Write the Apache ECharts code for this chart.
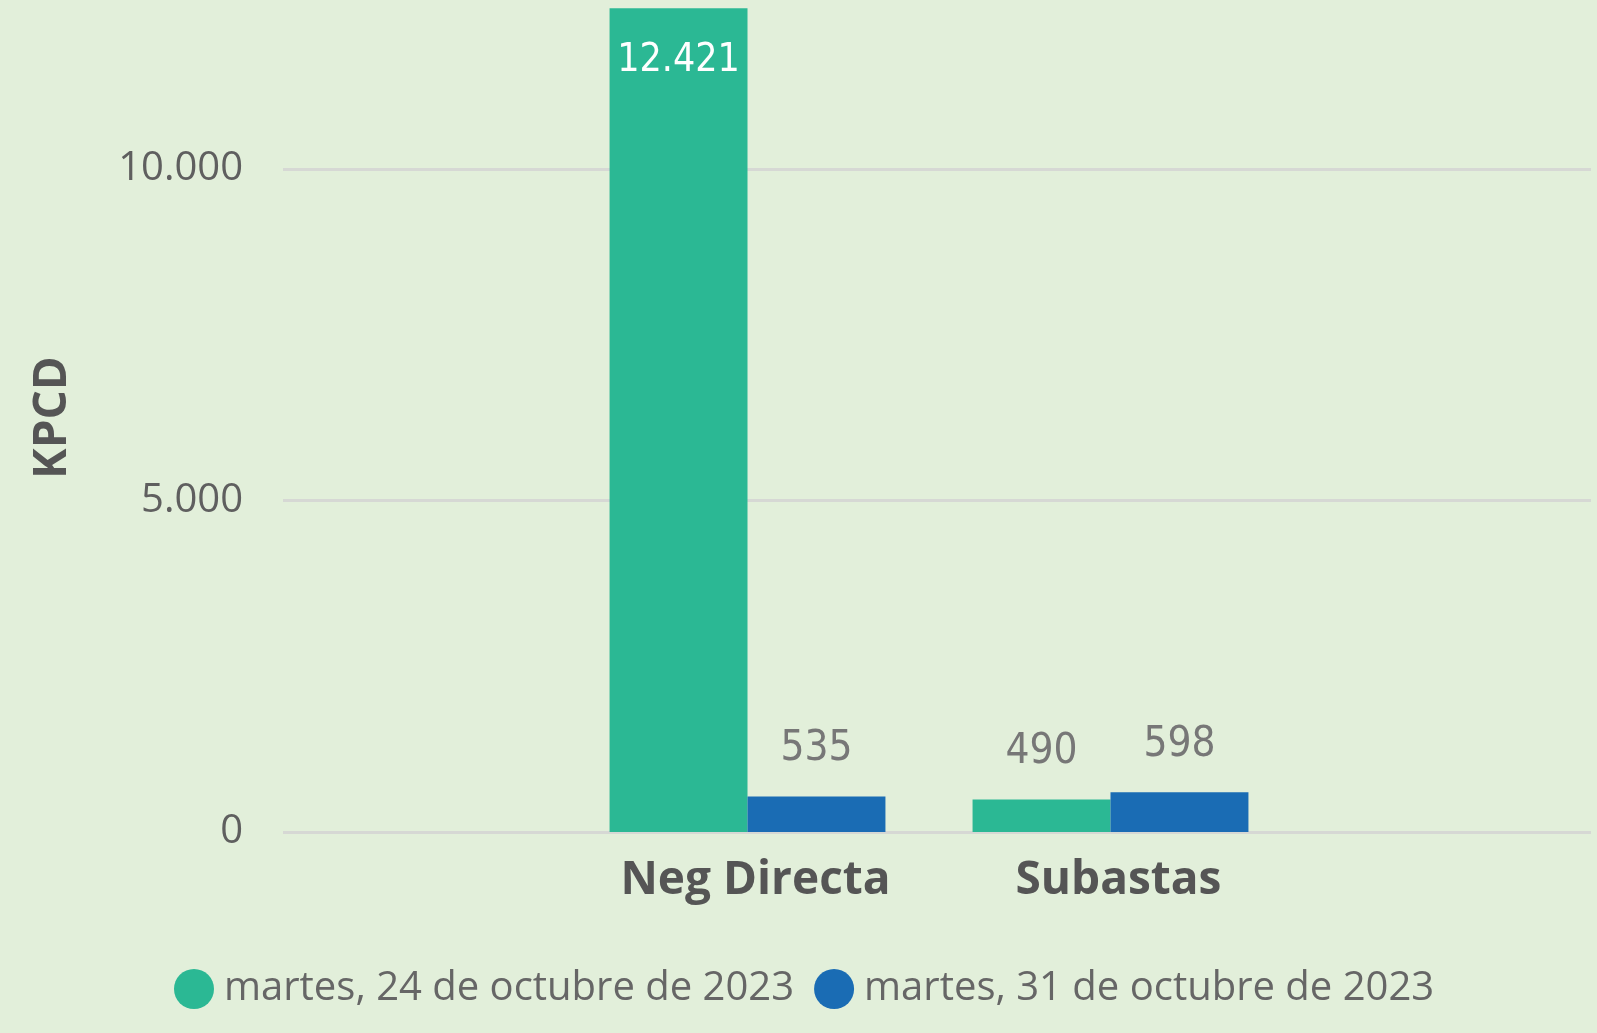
<!DOCTYPE html>
<html>
<head>
<meta charset="utf-8">
<script src="https://cdn.jsdelivr.net/npm/echarts@6/dist/echarts.min.js"></script>
<style>
html,body{margin:0;padding:0;background:#E2EFDA;}
#chart{width:1597px;height:1033px;}
</style>
</head>
<body>
<div id="chart"></div>
<script>
const categories = ['Neg Directa', 'Subastas'];
const seriesNames = ['martes, 24 de octubre de 2023', 'martes, 31 de octubre de 2023'];
const values24 = [12421, 490];
const values31 = [535, 598];
const yTicks = [0, 5000, 10000];

const Y_MIN = 0, Y_MAX = 12500, Y_INTERVAL = 5000;
const fmt = v => String(Math.round(v)).replace(/\B(?=(\d{3})+(?!\d))/g, '.');
const labelFont = 'Liberation Sans Narrow, DejaVu Sans Condensed, Open Sans, sans-serif';

const chart = echarts.init(document.getElementById('chart'));
const gridLineColor = '#d6d8d4';
const option = {
  backgroundColor: '#E2EFDA',
  animation: false,
  grid: [
    {left: 283, right: 6, top: 3, bottom: 201},
    {left: 566, right: 305, top: 3, bottom: 201}
  ],
  legend: {
    data: seriesNames,
    left: 169,
    top: 964,
    icon: 'circle',
    itemWidth: 40,
    itemHeight: 40,
    itemGap: 20,
    textStyle: {fontFamily: 'Open Sans', fontSize: 40, color: '#666666', padding: [0, 0, 0, 5]}
  },
  xAxis: [
    {gridIndex: 0, type: 'category', data: [''], show: false},
    {
      gridIndex: 1, type: 'category', data: categories,
      axisLine: {show: false}, axisTick: {show: false},
      axisLabel: {fontFamily: 'Open Sans', fontWeight: 'bold', fontSize: 46, color: '#555555', margin: 26, padding: [0, 0, 0, 16]}
    }
  ],
  yAxis: [
    {
      gridIndex: 0, type: 'value', min: Y_MIN, max: Y_MAX, interval: Y_INTERVAL,
      name: 'KPCD', nameLocation: 'middle', nameRotate: 90, nameGap: 207,
      nameTextStyle: {fontFamily: 'Open Sans', fontWeight: 'bold', fontSize: 46, color: '#555555'},
      axisLine: {show: false}, axisTick: {show: false},
      axisLabel: {
        fontFamily: 'Open Sans', fontSize: 40, color: '#5f5f5f', margin: 40,
        formatter: v => (yTicks.indexOf(v) >= 0 ? fmt(v) : '')
      },
      splitLine: {show: true, lineStyle: {color: [gridLineColor, gridLineColor, gridLineColor, 'rgba(0,0,0,0)'], width: 3}}
    },
    {
      gridIndex: 1, type: 'value', min: Y_MIN, max: Y_MAX, interval: Y_INTERVAL,
      show: false, splitLine: {show: false}
    }
  ],
  series: [
    {
      name: seriesNames[0], type: 'bar', xAxisIndex: 1, yAxisIndex: 1,
      data: values24.map((v, i) => (i === 0 ? {value: v, label: {position: 'insideTop', distance: 33, color: '#ffffff', fontSize: 39}} : v)),
      barGap: 0, barCategoryGap: '24%',
      itemStyle: {color: '#2BB894'},
      label: {
        show: true, position: 'top', distance: 26,
        fontFamily: labelFont, fontSize: 42,
        color: '#777777', formatter: p => fmt(p.value)
      }
    },
    {
      name: seriesNames[1], type: 'bar', xAxisIndex: 1, yAxisIndex: 1,
      data: values31, barGap: 0, barCategoryGap: '24%',
      itemStyle: {color: '#1A6CB4'},
      label: {
        show: true, position: 'top', distance: 26,
        fontFamily: labelFont, fontSize: 42,
        color: '#777777', formatter: p => fmt(p.value)
      }
    }
  ]
};
chart.setOption(option);
</script>
</body>
</html>
